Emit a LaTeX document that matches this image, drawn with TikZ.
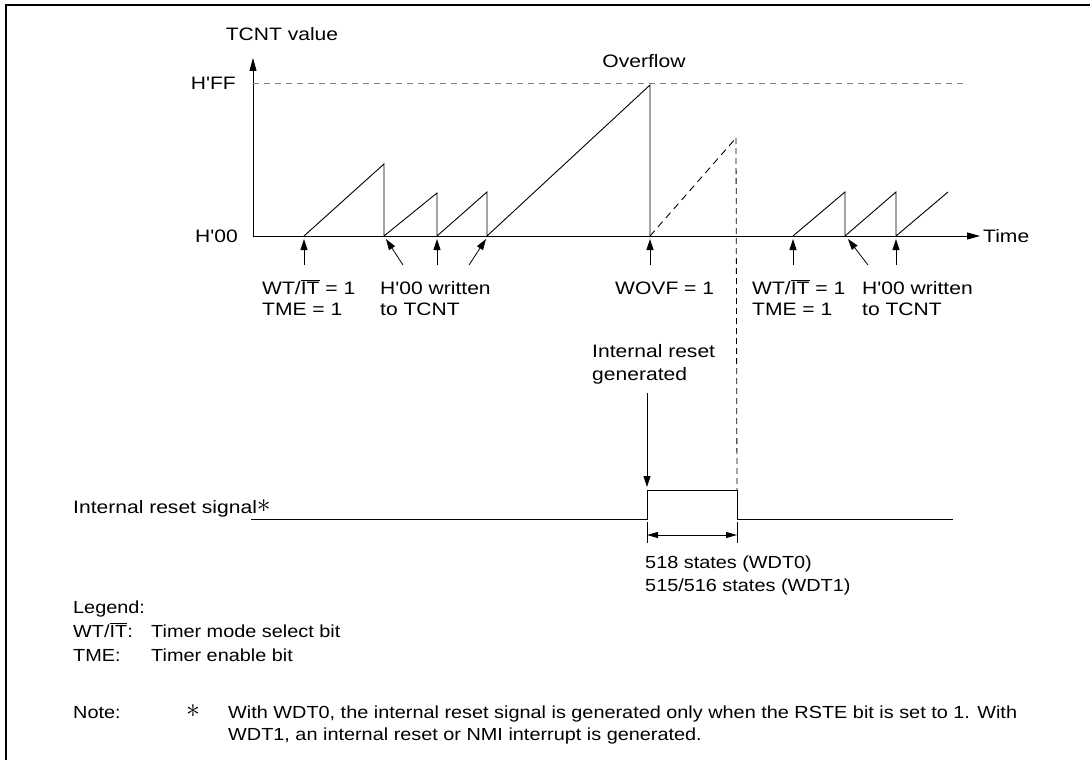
\documentclass[tikz,border=0pt]{standalone}
\usepackage{fontspec}
\setmainfont{Liberation Sans}[FakeStretch=1.17,Ligatures=TeXOff]
\newfontfamily\lowfont{Liberation Sans}[FakeStretch=1.135,Ligatures=TeXOff]
\usetikzlibrary{arrows.meta}
\tikzset{
  lbl/.style={font=\fontsize{18pt}{22pt}\selectfont, inner sep=0pt, anchor=base west},
  low/.style={font=\lowfont\fontsize{17.5pt}{22pt}\selectfont, inner sep=0pt, anchor=base west},
  lble/.style={lbl, anchor=base east},
  lblc/.style={lbl, anchor=base},
  arr/.style={line width=0.8pt, -{Triangle[length=11pt,width=7pt]}},
  axis/.style={line width=0.9pt, -{Triangle[length=13pt,width=7pt]}},
  wave/.style={line width=0.9pt},
  dwave/.style={line width=0.9pt, dash pattern=on 7pt off 5pt},
  vdash/.style={line width=0.8pt, dash pattern=on 6pt off 4pt},
  ffline/.style={line width=0.8pt, gray, dash pattern=on 6pt off 5pt},
  frame/.style={line width=1.5pt},
  sig/.style={line width=0.9pt},
  dim/.style={line width=0.8pt, {Triangle[length=11pt,width=6pt]}-{Triangle[length=11pt,width=6pt]}}
}
\newcommand{\wtit}{WT/$\overline{\hbox{IT}}$}
\newcommand{\bigast}{\raisebox{1pt}{\scalebox{1.6}{$\ast$}}}
\begin{document}
\begin{tikzpicture}[x=1pt,y=-1pt]
\useasboundingbox (0,0) rectangle (1090,760);
% frame
\coordinate (F1) at (6,760);
\coordinate (F2) at (6,5);
\coordinate (F3) at (1090,5);
\draw[frame] (F1) -- (F2) -- (F3);

% axes
\coordinate (O) at (253,236);
\coordinate (Ytop) at (253,58);
\coordinate (Xend) at (980,236);
\draw[axis] (O) -- (Ytop);
\draw[axis] (O) -- (Xend);
\coordinate (FFl) at (253,83);
\coordinate (FFr) at (967,83);
\draw[ffline] (FFl) -- (FFr);

\node[lblc] (tcnt) at (282,41) {TCNT value};
\node[lble] (hff) at (236,89) {H'FF};
\node[lble] (h00) at (238,242) {H'00};
\node[lblc] (ovf) at (644,68) {Overflow};
\node[lbl] (time) at (983,242) {Time};

% waveform
\coordinate (a0) at (304,236);
\coordinate (a1) at (384,236);
\coordinate (a2) at (437,236);
\coordinate (a3) at (487,236);
\coordinate (a4) at (650,236);
\coordinate (b0) at (793,236);
\coordinate (b1) at (845,236);
\coordinate (b2) at (896,236);
\draw[wave] (a0) -- (384,164) -- (a1) -- (437,193) -- (a2) -- (487,192) -- (a3) -- (650,85) -- (a4);
\coordinate (dtop) at (736,138);
\coordinate (dbot) at (737,490);
\draw[dwave] (a4) -- (dtop);
\draw[vdash] (dtop) -- (dbot);
\draw[wave] (b0) -- (845,192) -- (b1) -- (896,192) -- (b2) -- (948,192);

% event arrows
\coordinate (t0) at (304,265);
\coordinate (t1) at (403,265);
\coordinate (t2) at (437,265);
\coordinate (t3) at (469,265);
\coordinate (t4) at (650,265);
\coordinate (t5) at (793,265);
\coordinate (t6) at (868,265);
\coordinate (t7) at (896,265);
\coordinate (h0) at (304,239);
\coordinate (h1) at (386,239);
\coordinate (h2) at (437,239);
\coordinate (h3) at (486,239);
\coordinate (h4) at (650,239);
\coordinate (h5) at (793,239);
\coordinate (h6) at (848,239);
\coordinate (h7) at (896,239);
\draw[arr] (t0) -- (h0);
\draw[arr] (t1) -- (h1);
\draw[arr] (t2) -- (h2);
\draw[arr] (t3) -- (h3);
\draw[arr] (t4) -- (h4);
\draw[arr] (t5) -- (h5);
\draw[arr] (t6) -- (h6);
\draw[arr] (t7) -- (h7);

% labels under axis
\node[lbl] (l1a) at (262,294) {\wtit{} = 1};
\node[lbl] (l1b) at (262,315) {TME = 1};
\node[lbl] (l2a) at (380,294) {H'00 written};
\node[lbl] (l2b) at (380,315) {to TCNT};
\node[lbl] (l3a) at (615,294) {WOVF = 1};
\node[lbl] (l4a) at (752,294) {\wtit{} = 1};
\node[lbl] (l4b) at (752,315) {TME = 1};
\node[lbl] (l5a) at (862,294) {H'00 written};
\node[lbl] (l5b) at (862,315) {to TCNT};

% reset
\node[lbl] (ir1) at (592,357) {Internal reset};
\node[lbl] (ir2) at (592,380) {generated};
\coordinate (rt) at (647,393);
\coordinate (rh) at (647,487);
\draw[arr] (rt) -- (rh);

\node[lbl] (irs) at (73,513) {Internal reset signal\bigast};
\coordinate (s0) at (251,519);
\coordinate (s1) at (647,519);
\coordinate (s2) at (647,490);
\coordinate (s3) at (737,490);
\coordinate (s4) at (737,519);
\coordinate (s5) at (953,519);
\draw[sig] (s0) -- (s1) -- (s2) -- (s3) -- (s4) -- (s5);
\coordinate (e1a) at (647,522);
\coordinate (e1b) at (647,543);
\coordinate (e2a) at (737,522);
\coordinate (e2b) at (737,543);
\draw[line width=0.8pt] (e1a) -- (e1b);
\draw[line width=0.8pt] (e2a) -- (e2b);
\coordinate (d1) at (647,535);
\coordinate (d2) at (737,535);
\draw[dim] (d1) -- (d2);
\node[low] (st1) at (645,568) {518 states (WDT0)};
\node[low] (st2) at (645,591) {515/516 states (WDT1)};

% legend
\node[low] (lg) at (73,613) {Legend:};
\node[low] (lg1) at (73,637) {\wtit:};
\node[low] (lg1t) at (151,637) {Timer mode select bit};
\node[low] (lg2) at (73,661) {TME:};
\node[low] (lg2t) at (151,661) {Timer enable bit};

% note
\node[low] (nt) at (73,718) {Note:};
\node[low] (ns) at (186,718) {\bigast};
\node[low] (n1) at (228,718) {With WDT0, the internal reset signal is generated only when the RSTE bit is set to 1. With};
\node[low] (n2) at (228,740) {WDT1, an internal reset or NMI interrupt is generated.};
\end{tikzpicture}
\end{document}
